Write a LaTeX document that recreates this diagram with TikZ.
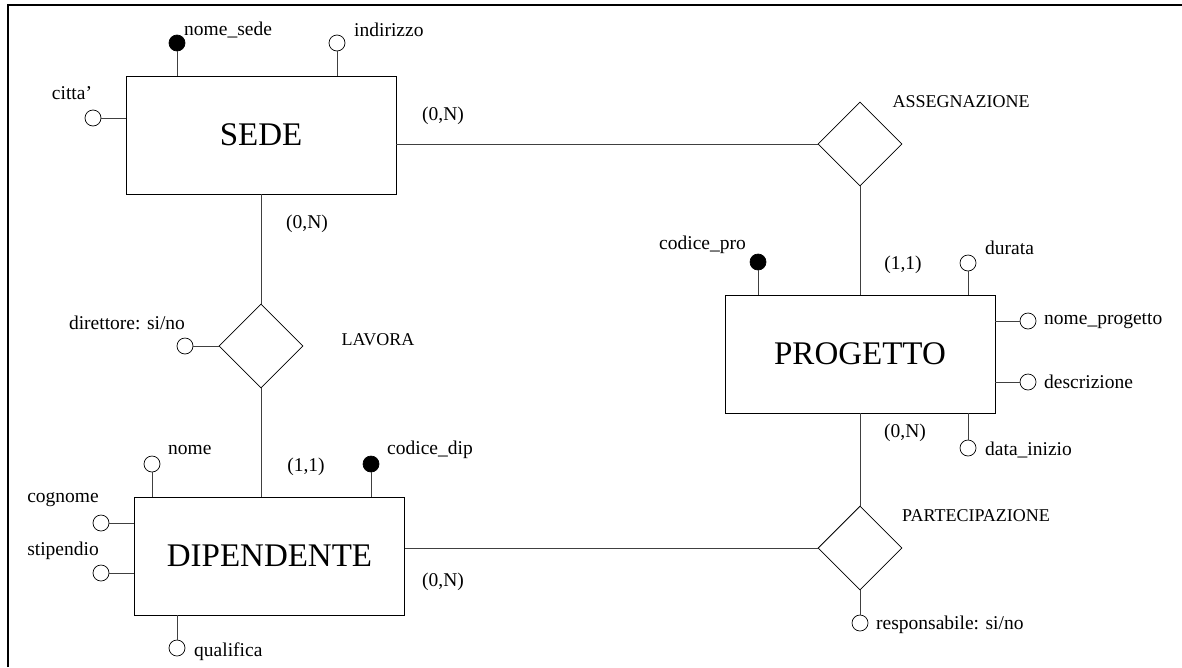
\documentclass[tikz,border=0pt]{standalone}
\usepackage{fontspec}
\setmainfont{Liberation Serif}
\usepackage{tikz}
\usetikzlibrary{shapes,positioning}

\begin{document}
\begin{tikzpicture}[x=1pt, y=-1pt, entity/.style = {rectangle, draw, line width=0.8pt, minimum width=270pt, minimum height=118pt, font=\fontsize{33}{36}\selectfont}, relation/.style = {diamond, draw, line width=0.8pt, minimum width=84pt, minimum height=84pt, inner sep=0pt}, attr/.style = {circle, draw, line width=0.7pt, fill=white, minimum size=16pt, inner sep=0pt}, keyattr/.style = {attr, fill=black}, lbl/.style = {font=\fontsize{19.5}{22}\selectfont, inner sep=0pt}, rlbl/.style = {font=\fontsize{18}{21}\selectfont, inner sep=0pt}, line/.style = {draw, line width=0.9pt, black!75}]
			\useasboundingbox (0,0) rectangle (1182,667);
			\draw[line width=2pt] (8,667) -- (8,5) -- (1182,5);
			
			\node[entity] (sede) at (261,135) {SEDE};
			\node[entity] (progetto) at (860,354) {PROGETTO};
			\node[entity] (dipendente) at (269.5,556) {DIPENDENTE};
			\node[relation] (assegnazione) at (860,144) {};
			\node[relation] (lavora) at (261,346) {};
			\node[relation] (partecipazione) at (860,548) {};
			\node[rlbl] at (961,102) {ASSEGNAZIONE};
			\node[rlbl] at (378,340) {LAVORA};
			\node[rlbl,anchor=west] at (902,516) {PARTECIPAZIONE};
			
			\node[keyattr] (nomesede) at (177,43) {};
			\node[attr] (indirizzo) at (337,43) {};
			\node[attr] (citta) at (93,118) {};
			\node[attr] (direttore) at (185,346) {};
			\node[attr] (nome) at (152,464) {};
			\node[keyattr] (codicedip) at (371,464) {};
			\node[attr] (cognome) at (101,523) {};
			\node[attr] (stipendio) at (101,573) {};
			\node[attr] (qualifica) at (177,648) {};
			\node[keyattr] (codicepro) at (758,262) {};
			\node[attr] (durata) at (968,263) {};
			\node[attr] (nomeprogetto) at (1028,321) {};
			\node[attr] (descrizione) at (1028,382) {};
			\node[attr] (datainizio) at (968,448) {};
			\node[attr] (responsabile) at (860,623) {};
			
			\node[lbl,anchor=west] at (184,30) {nome\_sede};
			\node[lbl,anchor=west] at (354,30) {indirizzo};
			\node[lbl] at (72,93) {citta'};
			\node[lbl] at (127,323) {direttore: si/no};
			\node[lbl,anchor=west] at (168,450) {nome};
			\node[lbl,anchor=west] at (387,450) {codice\_dip};
			\node[lbl] at (63,500) {cognome};
			\node[lbl] at (63,551) {stipendio};
			\node[lbl,anchor=west] at (194,652) {qualifica};
			\node[lbl,anchor=east] at (746,245) {codice\_pro};
			\node[lbl,anchor=west] at (985,248) {durata};
			\node[lbl,anchor=west] at (1044,321) {nome\_progetto};
			\node[lbl,anchor=west] at (1044,382) {descrizione};
			\node[lbl,anchor=west] at (985,450) {data\_inizio};
			\node[lbl,anchor=west] at (876,625) {responsabile: si/no};
			
			\node[lbl] at (443,116) {(0,N)};
			\node[lbl] at (307,224) {(0,N)};
			\node[lbl] at (306,467) {(1,1)};
			\node[lbl] at (903,265) {(1,1)};
			\node[lbl] at (905,433) {(0,N)};
			\node[lbl] at (443,582) {(0,N)};
			
			\path[line] (assegnazione.west) -- (assegnazione.west -| sede.east);
			\path[line] (assegnazione) -- (progetto);
			\path[line] (sede) -- (lavora);
			\path[line] (lavora.south) -- (lavora.south |- dipendente.north);
			\path[line] (progetto) -- (partecipazione);
			\path[line] (partecipazione.west) -- (partecipazione.west -| dipendente.east);
			
			\path[line] (nomesede) -- (nomesede |- sede.north);
			\path[line] (indirizzo) -- (indirizzo |- sede.north);
			\path[line] (citta) -- (citta -| sede.west);
			\path[line] (direttore) -- (lavora);
			\path[line] (nome) -- (nome |- dipendente.north);
			\path[line] (codicedip) -- (codicedip |- dipendente.north);
			\path[line] (cognome) -- (cognome -| dipendente.west);
			\path[line] (stipendio) -- (stipendio -| dipendente.west);
			\path[line] (qualifica) -- (qualifica |- dipendente.south);
			\path[line] (codicepro) -- (codicepro |- progetto.north);
			\path[line] (durata) -- (durata |- progetto.north);
			\path[line] (nomeprogetto) -- (nomeprogetto -| progetto.east);
			\path[line] (descrizione) -- (descrizione -| progetto.east);
			\path[line] (datainizio) -- (datainizio |- progetto.south);
			\path[line] (responsabile) -- (partecipazione);
			\end{tikzpicture}
\end{document}
